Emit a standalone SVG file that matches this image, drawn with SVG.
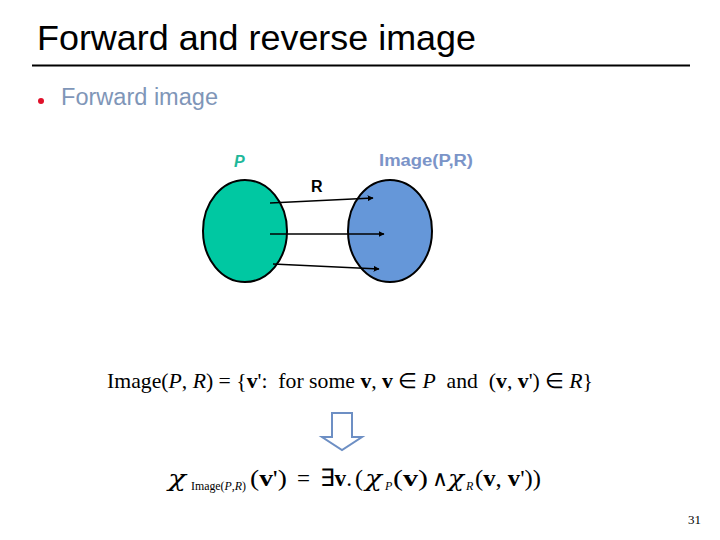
<svg xmlns="http://www.w3.org/2000/svg" width="720" height="540" viewBox="0 0 720 540">
<style>
.title{font-family:"Liberation Sans",Arial,sans-serif;font-size:35px;fill:#000}
.bullet{font-family:"Liberation Sans",Arial,sans-serif;font-size:23px;fill:#7f96b8}
.lbl{font-family:"Liberation Sans",Arial,sans-serif;font-size:16px;font-weight:bold}
.math{font-family:"Liberation Serif","Times New Roman",serif;font-size:21px;fill:#000;white-space:pre}
.m2{font-family:"Liberation Serif","Times New Roman",serif;font-size:24px;fill:#000;white-space:pre}
.chi{font-family:"DejaVu Serif","Liberation Serif",serif;font-style:italic;font-size:22px;fill:#000}
.it{font-style:italic}
.bd{font-weight:bold}
.sub{font-size:12px}
.conn{stroke:#000;stroke-width:1.6;fill:none;marker-end:url(#ah)}
.ell{stroke:#000;stroke-width:2}
</style>
<defs>
<marker id="ah" viewBox="0 0 10 10" refX="9" refY="5" markerWidth="6" markerHeight="6" orient="auto" markerUnits="userSpaceOnUse">
<path d="M0,0 L10,5 L0,10 Z" fill="#000"/>
</marker>
</defs>
<rect width="720" height="540" fill="#fff"/>
<g id="header">
<text class="title" x="37" y="50" textLength="439" lengthAdjust="spacingAndGlyphs">Forward and reverse image</text>
<line x1="32" y1="65.5" x2="690" y2="65.5" stroke="#000" stroke-width="2"/>
<circle cx="41" cy="101" r="3" fill="#e0102a"/>
<text class="bullet" x="61" y="105" textLength="157" lengthAdjust="spacingAndGlyphs">Forward image</text>
</g>
<g id="nodeP">
<ellipse class="ell" cx="245" cy="231" rx="42" ry="51" fill="#00c8a2"/>
<text class="lbl it" x="234" y="167" fill="#1fb89a">P</text>
</g>
<g id="nodeImage">
<ellipse class="ell" cx="390" cy="231" rx="42" ry="51" fill="#6597d9"/>
<text class="lbl" x="379" y="166" fill="#7b94c8" textLength="94" lengthAdjust="spacingAndGlyphs">Image(P,R)</text>
</g>
<g id="connectors">
<line class="conn" x1="270" y1="203" x2="373" y2="198"/>
<line class="conn" x1="270" y1="234" x2="384" y2="234"/>
<line class="conn" x1="273" y1="264" x2="379" y2="269"/>
<text class="lbl" x="311" y="192" fill="#000">R</text>
</g>
<g id="formula1">
<text class="math" x="107" y="388" textLength="486" lengthAdjust="spacingAndGlyphs">Image(<tspan class="it">P</tspan>, <tspan class="it">R</tspan>) = {<tspan class="bd">v</tspan>':  for some <tspan class="bd">v</tspan>, <tspan class="bd">v</tspan> ∈ <tspan class="it">P</tspan>  and  (<tspan class="bd">v</tspan>, <tspan class="bd">v</tspan>') ∈ <tspan class="it">R</tspan>}</text>
</g>
<g id="downArrow">
<path d="M332,413 L352,413 L352,437 L362,437 L342,450 L322,437 L332,437 Z" fill="none" stroke="#6d8fc4" stroke-width="2"/>
</g>
<g id="formula2">
<text class="chi" x="168" y="486" textLength="18" lengthAdjust="spacingAndGlyphs">χ</text>
<text class="m2 sub" x="191" y="490" textLength="55" lengthAdjust="spacingAndGlyphs">Image(<tspan class="it">P</tspan>,<tspan class="it">R</tspan>)</text>
<text class="m2" x="250" y="486" textLength="37" lengthAdjust="spacingAndGlyphs">(<tspan class="bd">v</tspan>')</text>
<text class="m2" x="297" y="486" textLength="13" lengthAdjust="spacingAndGlyphs">=</text>
<text class="m2" x="320" y="486" textLength="32" lengthAdjust="spacingAndGlyphs">∃<tspan class="bd">v</tspan>.</text>
<text class="m2" x="355" y="486">(</text>
<text class="chi" x="365" y="486" textLength="17" lengthAdjust="spacingAndGlyphs">χ</text>
<text class="m2 sub it" x="385" y="490">P</text>
<text class="m2" x="393" y="486" textLength="35" lengthAdjust="spacingAndGlyphs">(<tspan class="bd">v</tspan>)</text>
<text class="m2" x="432" y="486" style="font-size:22px">∧</text>
<text class="chi" x="448" y="486" textLength="16" lengthAdjust="spacingAndGlyphs">χ</text>
<text class="m2 sub it" x="466" y="490">R</text>
<text class="m2" x="475" y="486" textLength="66" lengthAdjust="spacingAndGlyphs">(<tspan class="bd">v</tspan>, <tspan class="bd">v</tspan>'))</text>
</g>
<text class="math" x="688" y="524" style="font-size:13px">31</text>
</svg>
